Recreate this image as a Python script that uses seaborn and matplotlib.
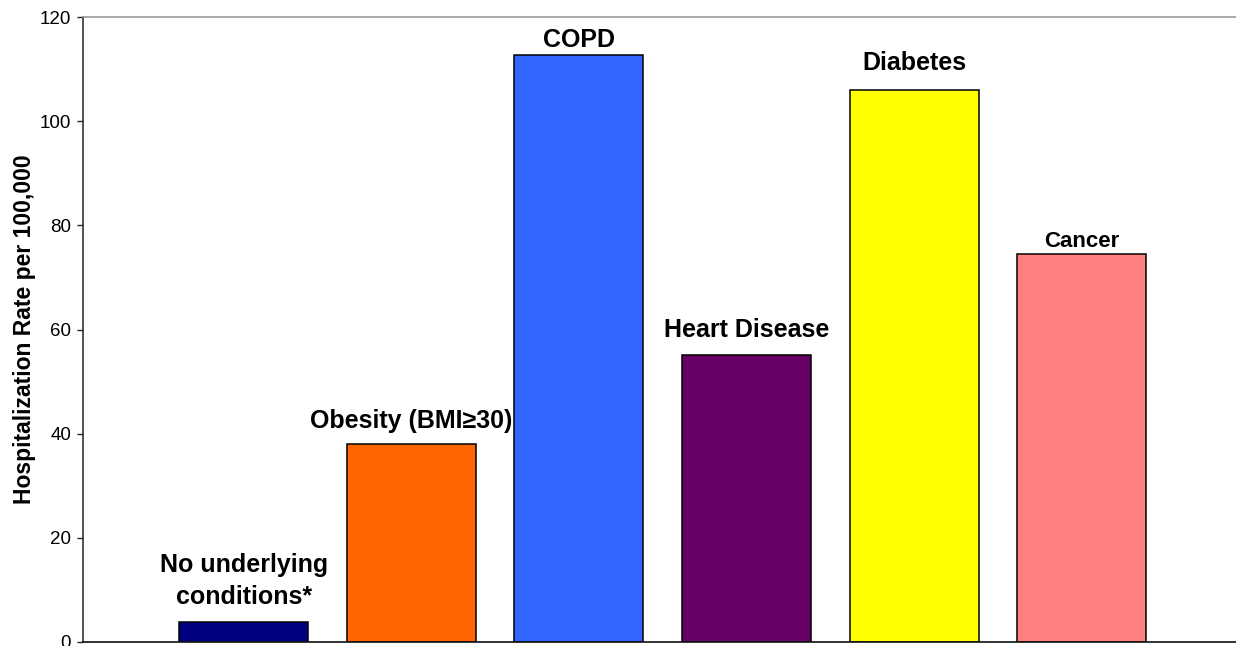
import seaborn as sns
import matplotlib.pyplot as plt

# Datos
categorias = ['No underlying\nconditions*', 'Obesity (BMI\u226530)', 'COPD',
              'Heart Disease', 'Diabetes', 'Cancer']
tasas = [3.8, 38.0, 112.7, 55.1, 106.0, 74.5]
colores = ['#000080', '#FF6600', '#3366FF', '#660066', '#FFFF00', '#FF8080']

# Estilo de las etiquetas sobre las barras (línea base, en puntos sobre la barra)
separacion = [13, 11.5, 5.8, 13, 14.4, 5]
tam_etiqueta = [18, 18, 18, 18, 18, 16]

sns.set_style('white')
plt.rcParams['font.family'] = ['Liberation Sans', 'DejaVu Sans']
plt.rcParams['text.color'] = 'black'

fig = plt.figure(figsize=(12.36, 6.46), dpi=100)
ax = fig.add_axes([83 / 1236, 4 / 646, 1 - 83 / 1236, 625 / 646])

sns.barplot(x=categorias, y=tasas, hue=categorias, palette=colores, legend=False,
            width=0.77, edgecolor='black', linewidth=1.1, saturation=1, ax=ax)

for i, (txt, val) in enumerate(zip(categorias, tasas)):
    ax.annotate(txt, xy=(i, val), xytext=(0, separacion[i]), textcoords='offset points',
                ha='center', va='baseline', fontsize=tam_etiqueta[i], fontweight='bold',
                linespacing=1.45, color='black')

ax.set_ylim(0, 120)
ax.set_xlim(-0.958, 5.92)
ax.set_yticks(range(0, 121, 20))
ax.tick_params(axis='y', which='major', left=True, direction='out', length=4.5,
               width=1, labelsize=13.5, colors='#222222', labelcolor='black', pad=4)
ax.tick_params(axis='x', bottom=False, labelbottom=False)
ax.set_xlabel('')
ax.set_ylabel('Hospitalization Rate per 100,000', fontsize=16.5, fontweight='bold',
              labelpad=3, color='black')

ax.spines['top'].set_color('#999999')
ax.spines['top'].set_linewidth(1.2)
ax.spines['right'].set_visible(False)
ax.spines['left'].set_color('#333333')
ax.spines['left'].set_linewidth(1.2)
ax.spines['bottom'].set_color('#111111')
ax.spines['bottom'].set_linewidth(1.2)

plt.savefig('out.png', dpi=100)
